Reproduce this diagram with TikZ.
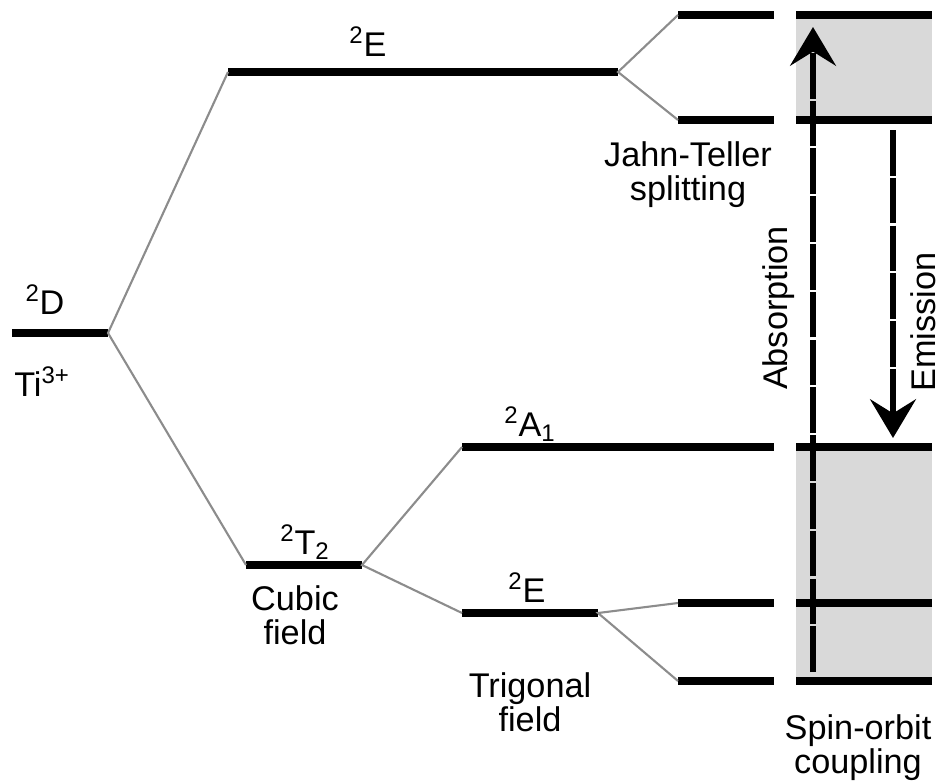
\documentclass[tikz,border=0pt]{standalone}
\usepackage{fontspec}
\setmainfont{Liberation Sans}
\usetikzlibrary{arrows.meta}

\begin{document}
\begin{tikzpicture}[
    x=0.02cm, y=-0.02cm,
    font=\fontsize{19.5}{19.5}\selectfont,
    level/.style={line width=5pt},
    link/.style={black!45, line width=1.2pt},
    trans/.style={
      line width=3.6pt,
      dash pattern=on 26pt off 1.2pt,
      -{Stealth[length=22pt, width=26pt, inset=8pt]}
    },
  ]
  \useasboundingbox (0,0) rectangle (946,781);

  % shaded bands
  \fill[gray!30] (796,15) rectangle (932,120);
  \fill[gray!30] (796,447) rectangle (932,681);

  % energy levels
  \foreach \name/\xa/\xb/\y in {
    D/12/108/333,
    Eu/228/618/72,
    JTa/678/774/15,
    JTb/678/774/120,
    T/246/362/565,
    A/462/774/447,
    Et/462/598/613,
    SOa/678/774/603,
    SOb/678/774/681
  }{
    \coordinate (\name-l) at (\xa,\y);
    \coordinate (\name-r) at (\xb,\y);
    \draw[level] (\name-l) -- (\name-r);
  }
  \foreach \y in {15, 120, 447, 603, 681}{
    \draw[level] (796,\y) -- (932,\y);
  }

  % splittings
  \draw[link] (Eu-l) -- (D-r) -- (T-l);
  \draw[link] (JTa-l) -- (Eu-r) -- (JTb-l);
  \draw[link] (A-l) -- (T-r) -- (Et-l);
  \draw[link] (SOa-l) -- (Et-r) -- (SOb-l);

  % transitions
  \coordinate (abs-s) at (813,672);
  \coordinate (abs-e) at (813,27);
  \coordinate (emi-s) at (893,130);
  \coordinate (emi-e) at (893,438);
  \draw[trans] (abs-s) -- (abs-e);
  \draw[trans] (emi-s) -- (emi-e);

  % labels
  \node (lD) at (45,300) {\textsuperscript{2}D};
  \node (lTi) at (42,382) {Ti\textsuperscript{3+}};
  \node (lEu) at (368,42) {\textsuperscript{2}E};
  \node[align=center] (lJT) at (688,175) {Jahn-Teller\\splitting};
  \node (lA) at (530,424) {\textsuperscript{2}A\textsubscript{1}};
  \node (lT) at (305,542) {\textsuperscript{2}T\textsubscript{2}};
  \node[align=center] (lCub) at (295,615) {Cubic\\field};
  \node (lEt) at (527,588) {\textsuperscript{2}E};
  \node[align=center] (lTrig) at (530,702) {Trigonal\\field};
  \node[align=center] (lSO) at (858,748) {Spin-orbit\\coupling};
  \node[rotate=90] (lAbs) at (779,308) {Absorption};
  \node[rotate=90] (lEmi) at (923,322) {Emission};
\end{tikzpicture}
\end{document}
